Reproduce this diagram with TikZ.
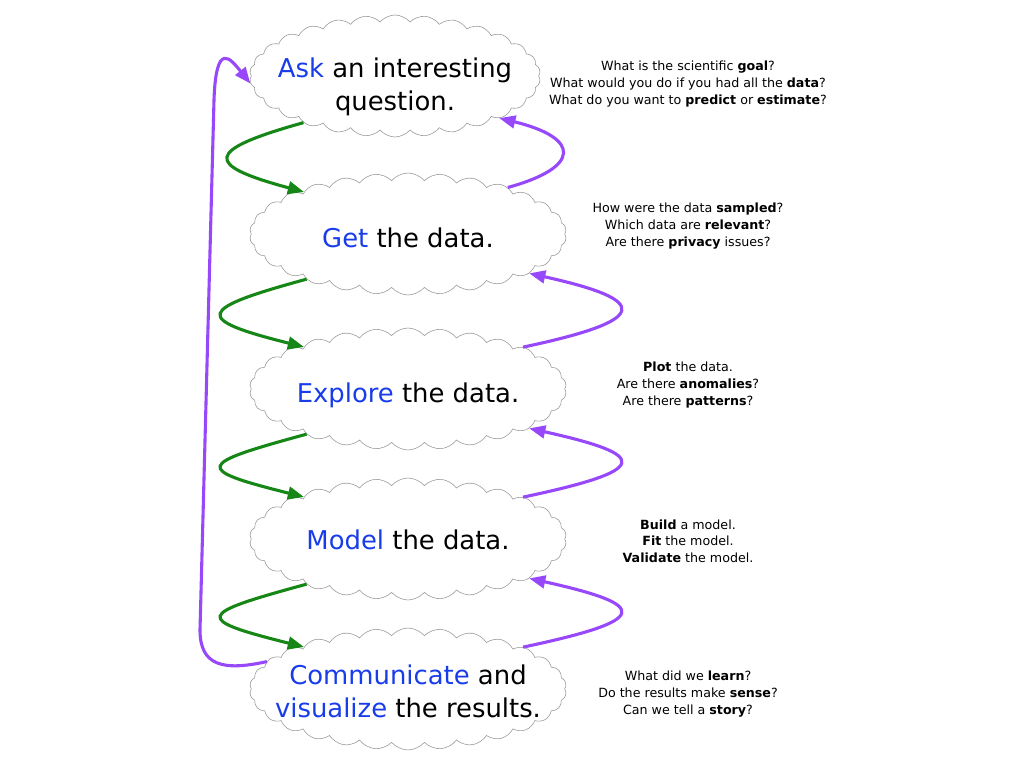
\documentclass[tikz,border=0pt]{standalone}
\usepackage{fontspec}
\setmainfont{DejaVu Sans}
\usepackage{tikz}
\usetikzlibrary{shapes.symbols,arrows.meta}
\definecolor{stageblue}{RGB}{25,60,235}
\definecolor{fwdgreen}{RGB}{22,135,22}
\definecolor{backpurple}{RGB}{150,72,250}
\definecolor{cloudgray}{RGB}{150,150,150}
\newcommand{\stagekw}[1]{\textcolor{stageblue}{#1}}

\begin{document}
\begin{tikzpicture}[x=0.025cm,y=-0.025cm,
 stage/.style={cloud,cloud puffs=30,cloud puff arc=100,cloud ignores aspect,draw=cloudgray,line width=0.4pt,minimum width=7.925cm,minimum height=3.05cm},
 stagetext/.style={align=center,yshift=-2.5pt,font=\fontsize{18.4}{23.4}\selectfont},
 note/.style={align=center,font=\fontsize{9}{11.8}\selectfont},
 fwd/.style={draw=fwdgreen,line width=2.2pt,-{Triangle[length=11.5pt,width=9pt]}},
 back/.style={draw=backpurple,line width=2.2pt,-{Triangle[length=11.5pt,width=9pt]}}]
\useasboundingbox (0,0) rectangle (1024,768);
% the five stages
\node [stage,minimum width=7.275cm,label={[stagetext,yshift=-5pt]center:{\stagekw{Ask} an interesting\\question.}}] (ask) at (395,76) {};
\node [stage,label={[stagetext]center:{\stagekw{Get} the data.}}] (get) at (408,234) {};
\node [stage,label={[stagetext,yshift=-2pt]center:{\stagekw{Explore} the data.}}] (explore) at (408,389) {};
\node [stage,label={[stagetext,yshift=2pt]center:{\stagekw{Model} the data.}}] (model) at (408,539) {};
\node [stage,label={[stagetext,yshift=1pt]center:{\stagekw{Communicate} and\\\stagekw{visualize} the results.}}] (comm) at (408,689) {};

% questions
\node [note] (askq) at (688,84) {What is the scientific \textbf{goal}?\\What would you do if you had all the \textbf{data}?\\What do you want to \textbf{predict} or \textbf{estimate}?};
\node [note] (getq) at (688,226) {How were the data \textbf{sampled}?\\Which data are \textbf{relevant}?\\Are there \textbf{privacy} issues?};
\node [note] (exploreq) at (688,385) {\textbf{Plot} the data.\\Are there \textbf{anomalies}?\\Are there \textbf{patterns}?};
\node [note] (modelq) at (688,541) {\textbf{Build} a model.\\\textbf{Fit} the model.\\\textbf{Validate} the model.};
\node [note] (commq) at (688,694) {What did we \textbf{learn}?\\Do the results make \textbf{sense}?\\Can we tell a \textbf{story}?};

% forward
\draw [fwd] (ask.207) .. controls +(-100,28) and +(-100,-27) .. (get.158);
\draw [fwd] (get.204) .. controls +(-110,30) and +(-112,-28) .. (explore.158);
\draw [fwd] (explore.204) .. controls +(-110,30) and +(-112,-28) .. (model.158);
\draw [fwd] (model.204) .. controls +(-110,30) and +(-112,-28) .. (comm.158);

% back
\draw [back] (get.25) .. controls +(73,-20) and +(82,20) .. (ask.-22);
\draw [back] (explore.20) .. controls +(128,-27) and +(122,27) .. (get.-18);
\draw [back] (model.20) .. controls +(128,-27) and +(122,27) .. (explore.-18);
\draw [back] (comm.20) .. controls +(128,-27) and +(122,27) .. (model.-18);
\draw [back] (comm.169) .. controls +(-45,10) and +(0,35) .. (200,630) -- (214,100) .. controls +(2,-60) and +(-20,-25) .. (ask.183);
\end{tikzpicture}
\end{document}
